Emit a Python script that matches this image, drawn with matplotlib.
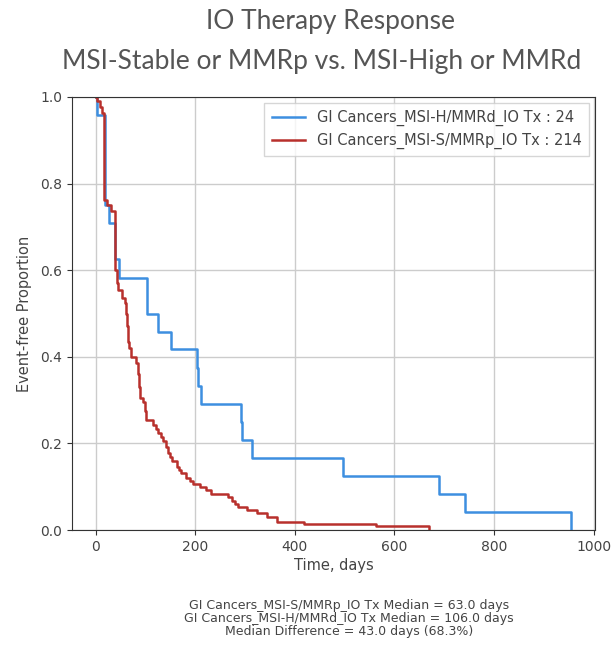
import matplotlib
matplotlib.use("Agg")
import matplotlib.pyplot as plt

# ---- data ----
msih_label = "GI Cancers_MSI-H/MMRd_IO Tx : 24"
msih_days = [0, 2, 19, 26, 38, 47, 103, 125, 151, 203, 206, 211, 291, 294, 314, 496, 690, 742, 955]
msih_surv = [1.0, 0.958, 0.750, 0.708, 0.625, 0.583, 0.500, 0.458, 0.417, 0.375, 0.333, 0.292,
             0.250, 0.208, 0.167, 0.125, 0.083, 0.042, 0.0]

msis_label = "GI Cancers_MSI-S/MMRp_IO Tx : 214"
msis_days = [0, 3, 8, 12, 17, 23, 30, 39, 42, 45, 52, 59, 61, 63, 64, 67, 70, 80, 84, 86, 88,
             94, 98, 101, 115, 120, 125, 130, 135, 140, 145, 149, 152, 162, 167, 172, 182, 189,
             196, 209, 222, 232, 266, 273, 280, 286, 303, 323, 343, 363, 419, 563, 669]
msis_surv = [1.0, 0.991, 0.977, 0.963, 0.762, 0.750, 0.737, 0.600, 0.570, 0.554, 0.536, 0.524,
             0.500, 0.470, 0.435, 0.420, 0.400, 0.386, 0.360, 0.330, 0.305, 0.296, 0.275, 0.254,
             0.243, 0.234, 0.225, 0.215, 0.206, 0.192, 0.178, 0.168, 0.159, 0.145, 0.138, 0.131,
             0.120, 0.114, 0.107, 0.100, 0.093, 0.082, 0.077, 0.066, 0.060, 0.054, 0.047, 0.040,
             0.031, 0.019, 0.014, 0.009, 0.0]

title_lines = ["IO Therapy Response", "MSI-Stable or MMRp vs. MSI-High or MMRd"]
footer_lines = ["GI Cancers_MSI-S/MMRp_IO Tx Median = 63.0 days",
                "GI Cancers_MSI-H/MMRd_IO Tx Median = 106.0 days",
                "Median Difference = 43.0 days (68.3%)"]
x_label = "Time, days"
y_label = "Event-free Proportion"

blue = "#3d8fe0"
red = "#b8302c"

fig = plt.figure(figsize=(6.12, 6.51), dpi=100)
ax = fig.add_axes([72/612, 1-530/651, (595-72)/612, (530-97)/651])

ax.step(msih_days, msih_surv, where="post", color=blue, lw=1.8, label=msih_label)
ax.step(msis_days, msis_surv, where="post", color=red, lw=1.8, label=msis_label)

ax.set_ylim(0, 1.0)
ax.set_xlim(-48, 1003)
ax.set_xticks([0, 200, 400, 600, 800, 1000])
ax.set_yticks([0.0, 0.2, 0.4, 0.6, 0.8, 1.0])
ax.grid(True, color="#cccccc", lw=1.0)
ax.set_axisbelow(True)
ax.tick_params(labelsize=10, colors="#333333", labelcolor="#444444")
for s in ax.spines.values():
    s.set_color("#333333")
ax.set_xlabel(x_label, fontsize=10.5, color="#444444", labelpad=3)
ax.set_ylabel(y_label, fontsize=10.5, color="#444444", labelpad=6)

leg = ax.legend(loc="upper right", fontsize=10.5, frameon=True, fancybox=False,
                edgecolor="#cccccc", handlelength=2.3, borderpad=0.5, labelspacing=0.45,
                borderaxespad=0.4)
for t in leg.get_texts():
    t.set_color("#444444")

fig.text(331/612, 1-22/651, title_lines[0], ha="center", va="center",
         fontsize=19, family="Lato", color="#555555")
fig.text(322/612, 1-62/651, title_lines[1], ha="center", va="center",
         fontsize=19, family="Lato", color="#555555")

for i, line in enumerate(footer_lines):
    fig.text(349/612, 1-(605 + 13.5*i)/651, line, ha="center", va="center",
             fontsize=9, color="#444444")

fig.savefig("out.png", dpi=100)
